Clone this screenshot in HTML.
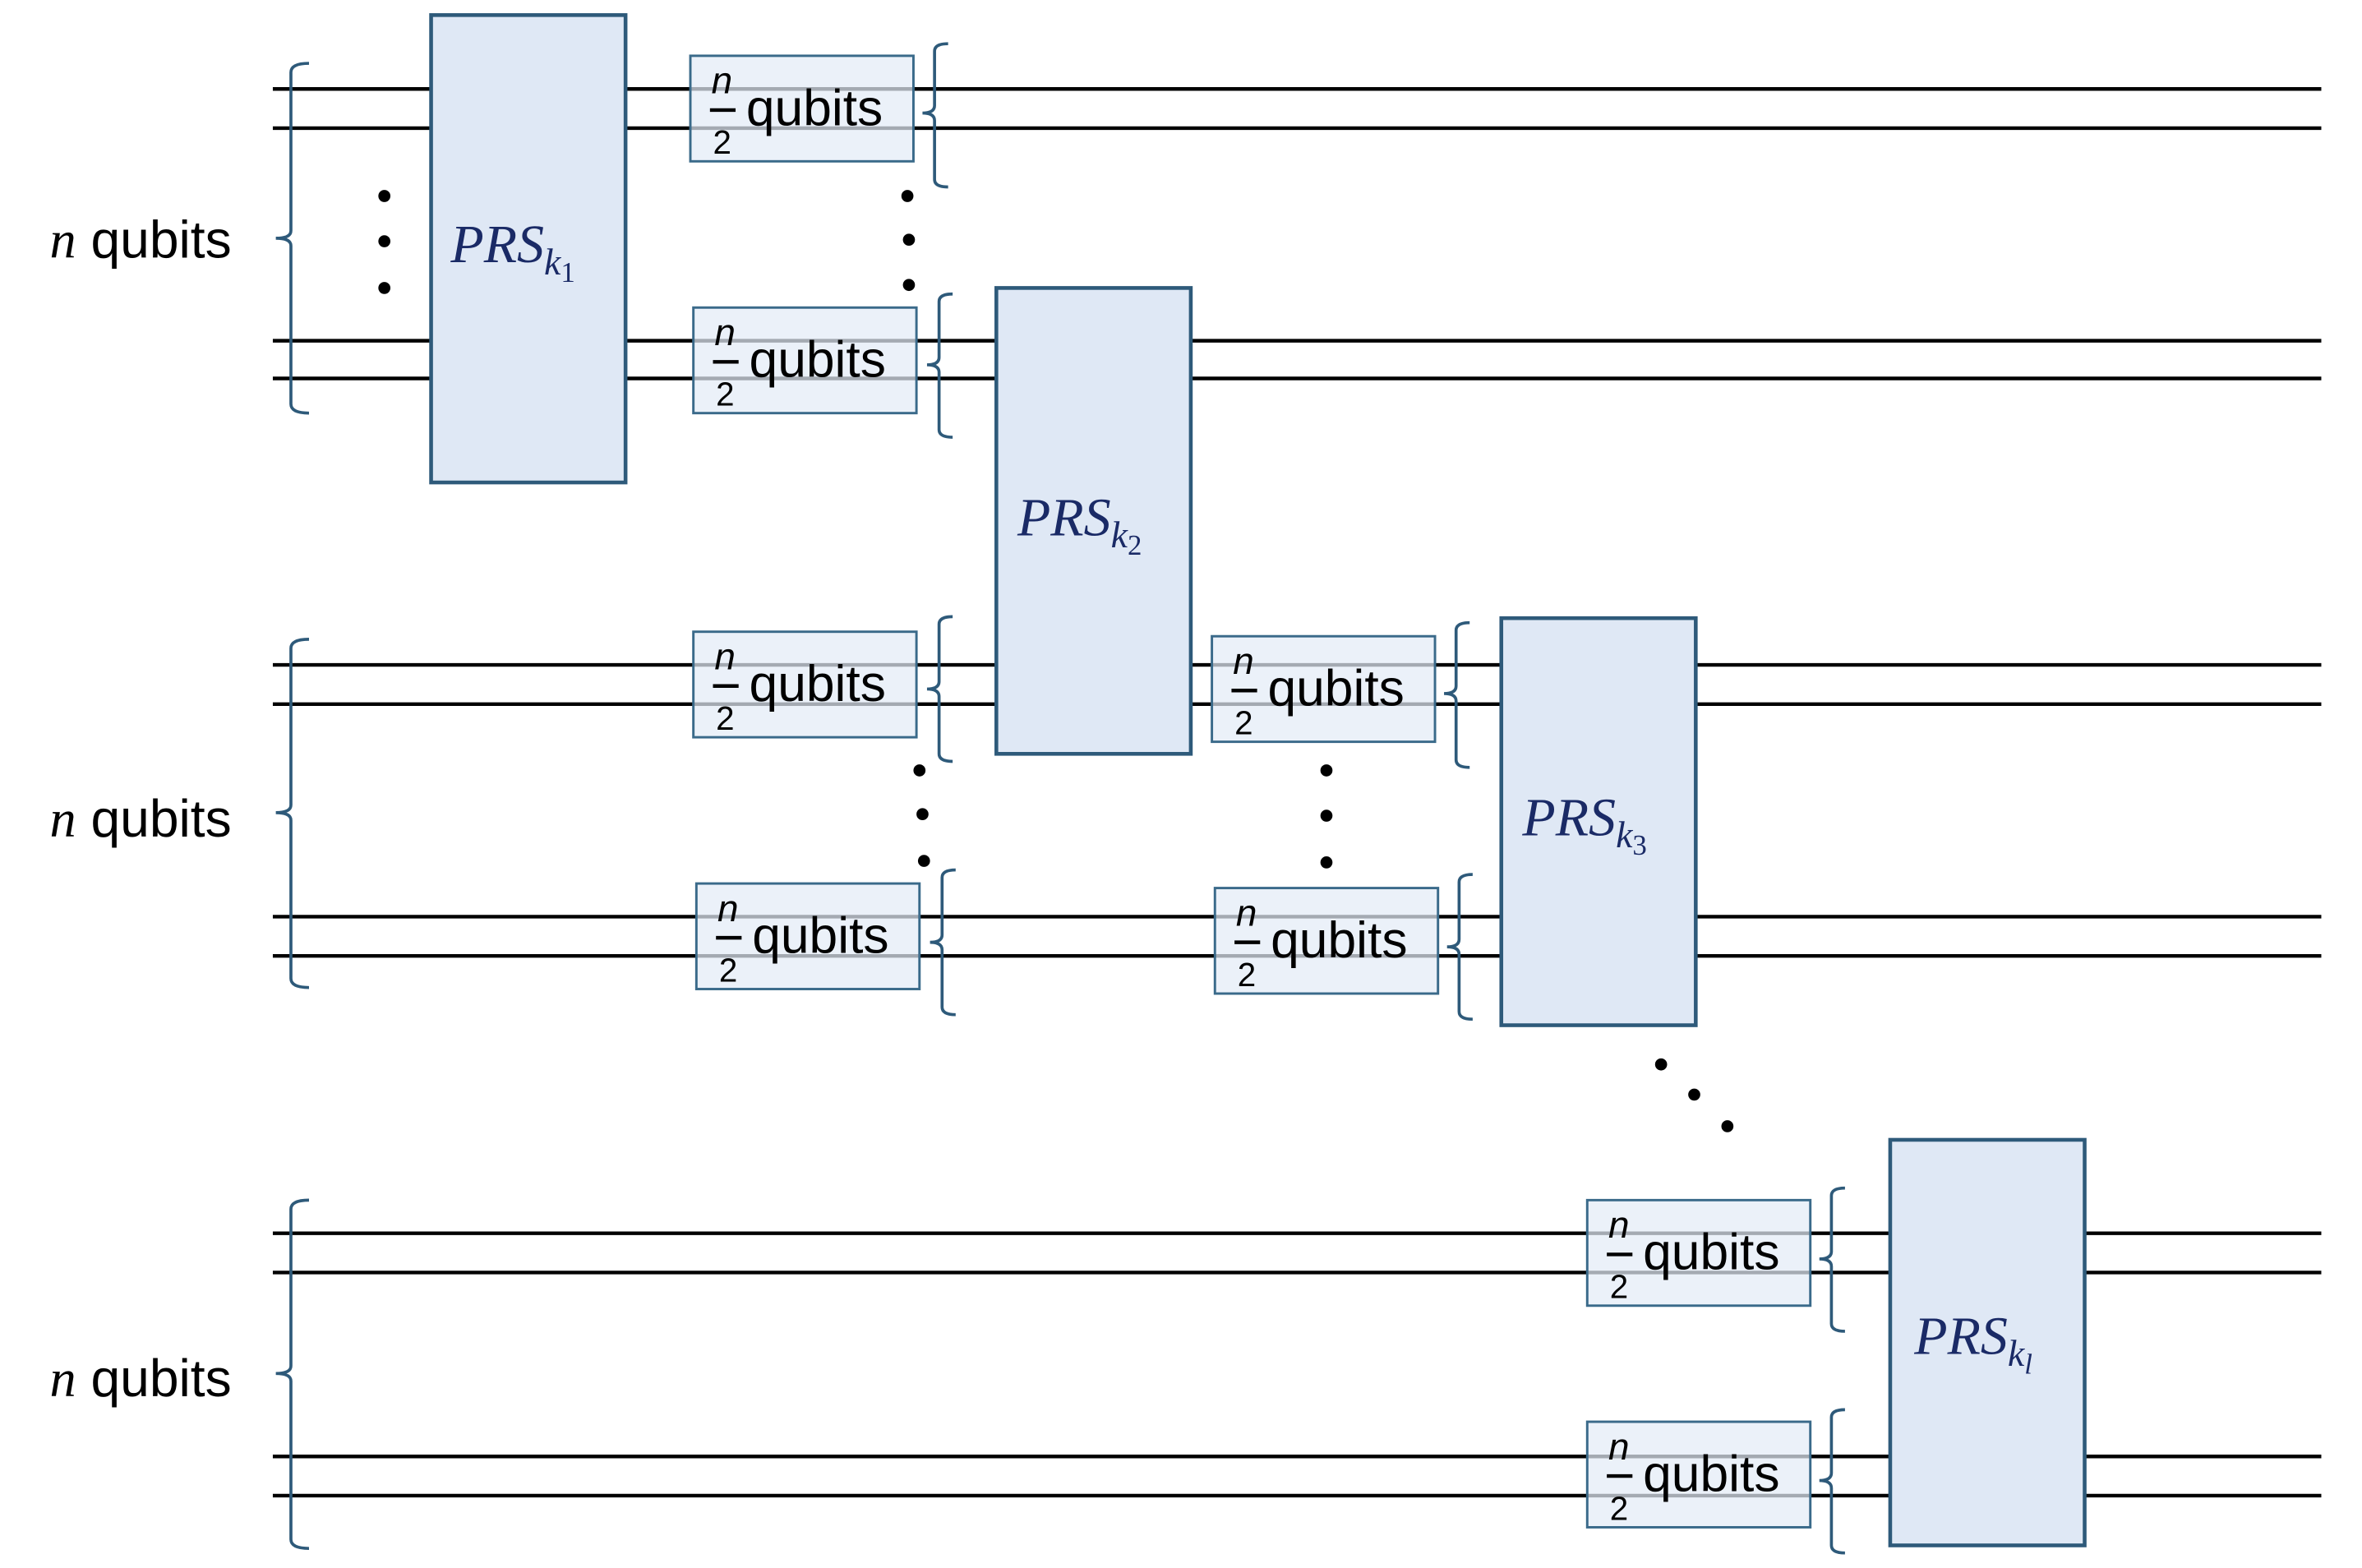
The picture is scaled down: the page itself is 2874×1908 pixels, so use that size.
<!DOCTYPE html>
<html><head><meta charset="utf-8"><style>
html,body{margin:0;padding:0;background:#fff;}
svg{display:block;}
text{font-family:"Liberation Sans",sans-serif;}
.pl{font-family:"Liberation Serif",serif;font-style:italic;fill:#1a2a66;}
</style></head><body>
<svg width="2874" height="1908" viewBox="0 0 1567 1040" preserveAspectRatio="none" xmlns="http://www.w3.org/2000/svg">
<g stroke="#000" stroke-width="2.4">
<line x1="181" y1="59" x2="1540" y2="59"/><line x1="181" y1="85" x2="1540" y2="85"/>
<line x1="181" y1="226" x2="1540" y2="226"/><line x1="181" y1="251" x2="1540" y2="251"/>
<line x1="181" y1="441" x2="1540" y2="441"/><line x1="181" y1="467" x2="1540" y2="467"/>
<line x1="181" y1="608" x2="1540" y2="608"/><line x1="181" y1="634" x2="1540" y2="634"/>
<line x1="181" y1="818" x2="1540" y2="818"/><line x1="181" y1="844" x2="1540" y2="844"/>
<line x1="181" y1="966" x2="1540" y2="966"/><line x1="181" y1="992" x2="1540" y2="992"/>
</g>
<g fill="none" stroke="#2e5a7a" stroke-width="2">
<path d="M205,42 Q193,42 193,48 L193,153 Q193,158 183,158 Q193,158 193,163 L193,268 Q193,274 205,274"/>
<path d="M205,424 Q193,424 193,430 L193,534 Q193,539 183,539 Q193,539 193,544 L193,649 Q193,655 205,655"/>
<path d="M205,796 Q193,796 193,802 L193,906 Q193,911 183,911 Q193,911 193,916 L193,1021 Q193,1027 205,1027"/>
<path d="M629,29 Q620,29 620,34 L620,70 Q620,75 612,75 Q620,75 620,80 L620,119 Q620,124 629,124"/>
<path d="M632,195 Q623,195 623,200 L623,237 Q623,242 615,242 Q623,242 623,247 L623,285 Q623,290 632,290"/>
<path d="M632,409 Q623,409 623,414 L623,452 Q623,457 615,457 Q623,457 623,462 L623,500 Q623,505 632,505"/>
<path d="M634,577 Q625,577 625,582 L625,620 Q625,625 617,625 Q625,625 625,630 L625,668 Q625,673 634,673"/>
<path d="M975,413 Q966,413 966,418 L966,455 Q966,460 958,460 Q966,460 966,465 L966,504 Q966,509 975,509"/>
<path d="M977,580 Q968,580 968,585 L968,623 Q968,628 960,628 Q968,628 968,633 L968,671 Q968,676 977,676"/>
<path d="M1224,788 Q1215,788 1215,793 L1215,830 Q1215,835 1207,835 Q1215,835 1215,840 L1215,878 Q1215,883 1224,883"/>
<path d="M1224,935 Q1215,935 1215,940 L1215,977 Q1215,982 1207,982 Q1215,982 1215,987 L1215,1025 Q1215,1030 1224,1030"/>
</g>
<g fill="#dfe8f5" stroke="#2e5a7a" stroke-width="2.5">
<rect x="286" y="10" width="129" height="310"/>
<rect x="661" y="191" width="129" height="309"/>
<rect x="996" y="410" width="129" height="270"/>
<rect x="1254" y="756" width="129" height="269"/>
</g>
<g font-size="36">
<text x="299" y="174" class="pl">PRS<tspan font-size="25" dy="8">k</tspan><tspan font-size="19" dy="5" font-style="normal">1</tspan></text>
<text x="675" y="355" class="pl">PRS<tspan font-size="25" dy="8">k</tspan><tspan font-size="19" dy="5" font-style="normal">2</tspan></text>
<text x="1010" y="554" class="pl">PRS<tspan font-size="25" dy="8">k</tspan><tspan font-size="19" dy="5" font-style="normal">3</tspan></text>
<text x="1270" y="898" class="pl">PRS<tspan font-size="25" dy="8">k</tspan><tspan font-size="19" dy="5">l</tspan></text>
</g>
<g font-size="35" fill="#000">
<text x="33" y="171"><tspan font-family="Liberation Serif" font-style="italic">n</tspan> qubits</text>
<text x="33" y="555"><tspan font-family="Liberation Serif" font-style="italic">n</tspan> qubits</text>
<text x="33" y="926"><tspan font-family="Liberation Serif" font-style="italic">n</tspan> qubits</text>
</g>
<g fill="#000">
<circle cx="255" cy="130" r="4"/><circle cx="255" cy="160" r="4"/><circle cx="255" cy="191" r="4"/>
<circle cx="602" cy="130" r="4"/><circle cx="603" cy="159" r="4"/><circle cx="603" cy="189" r="4"/>
<circle cx="610" cy="511" r="4"/><circle cx="612" cy="540" r="4"/><circle cx="613" cy="571" r="4"/>
<circle cx="880" cy="511" r="4"/><circle cx="880" cy="541" r="4"/><circle cx="880" cy="572" r="4"/>
<circle cx="1102" cy="706" r="4"/><circle cx="1124" cy="726" r="4"/><circle cx="1146" cy="747" r="4"/>
</g>
<defs>
<g id="sb">
<rect x="0" y="0" width="148" height="70" fill="#e3ebf6" fill-opacity="0.72" stroke="#3a6a8a" stroke-width="1.6"/>
<text x="14" y="25" font-size="25" font-family="Liberation Serif" font-style="italic">n</text>
<line x1="13" y1="36" x2="30" y2="36" stroke="#000" stroke-width="2.4"/>
<text x="15" y="65" font-size="22">2</text>
<text x="37" y="46" font-size="34">qubits</text>
</g>
</defs>
<use href="#sb" x="458" y="37"/>
<use href="#sb" x="460" y="204"/>
<use href="#sb" x="460" y="419"/>
<use href="#sb" x="462" y="586"/>
<use href="#sb" x="804" y="422"/>
<use href="#sb" x="806" y="589"/>
<use href="#sb" x="1053" y="796"/>
<use href="#sb" x="1053" y="943"/>
</svg>
</body></html>
